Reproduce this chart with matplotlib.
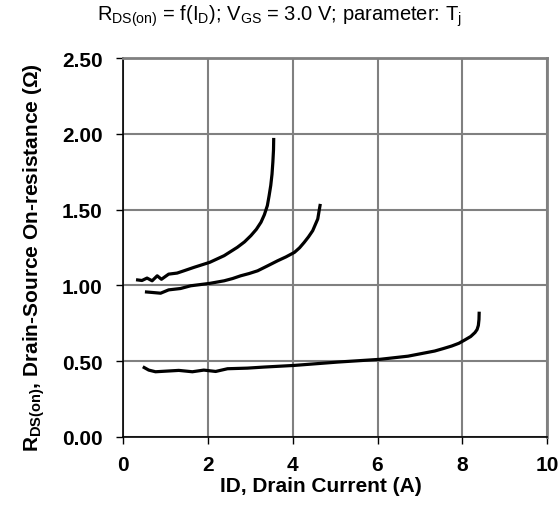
import matplotlib.pyplot as plt

plt.rcParams['font.family'] = ['Liberation Sans', 'DejaVu Sans']
plt.rcParams['mathtext.fontset'] = 'custom'
plt.rcParams['mathtext.rm'] = 'Liberation Sans'
plt.rcParams['mathtext.bf'] = 'Liberation Sans:bold'

# curve data (ID in A, RDS(on) in ohm)
id_a = [0.30, 0.44, 0.56, 0.68, 0.80, 0.90, 1.07, 1.27, 1.43, 1.67, 2.04, 2.38,
        2.69, 2.86, 3.01, 3.14, 3.25, 3.33, 3.40, 3.44, 3.48, 3.51, 3.53, 3.545, 3.55]
r_a = [1.037, 1.032, 1.048, 1.030, 1.063, 1.040, 1.074, 1.081, 1.096, 1.119, 1.152,
       1.196, 1.251, 1.287, 1.328, 1.370, 1.417, 1.467, 1.527, 1.590, 1.660, 1.735,
       1.815, 1.895, 1.974]

id_b = [0.51, 0.68, 0.88, 1.07, 1.35, 1.59, 2.04, 2.38, 2.58, 2.77, 2.97, 3.17,
        3.40, 3.64, 3.84, 4.04, 4.16, 4.27, 4.37, 4.47, 4.53, 4.59, 4.62, 4.65]
r_b = [0.957, 0.953, 0.948, 0.970, 0.979, 0.997, 1.013, 1.030, 1.045, 1.063, 1.078,
       1.096, 1.128, 1.162, 1.188, 1.218, 1.248, 1.284, 1.320, 1.361, 1.400, 1.439,
       1.490, 1.538]

id_c = [0.46, 0.60, 0.76, 1.31, 1.63, 1.90, 2.18, 2.46, 2.93, 3.32, 4.04, 5.06,
        6.05, 6.72, 7.35, 7.55, 7.75, 7.92, 8.06, 8.20, 8.30, 8.35, 8.38, 8.395, 8.40]
r_c = [0.462, 0.440, 0.429, 0.438, 0.429, 0.440, 0.431, 0.449, 0.453, 0.460, 0.471,
       0.493, 0.511, 0.532, 0.566, 0.582, 0.599, 0.617, 0.639, 0.662, 0.688, 0.708,
       0.735, 0.775, 0.826]

x_ticks = [0, 2, 4, 6, 8, 10]
y_ticks = [0.0, 0.5, 1.0, 1.5, 2.0, 2.5]

fig = plt.figure(figsize=(5.59, 5.06), dpi=100)
ax = fig.add_axes([0.2206, 0.135, 0.7579, 0.7478])

for xs, ys in [(id_a, r_a), (id_b, r_b), (id_c, r_c)]:
    ax.plot(xs, ys, color='black', lw=2.3, solid_capstyle='butt', zorder=3)

ax.set_xlim(0, 10)
ax.set_ylim(0, 2.5)
ax.set_xticks(x_ticks)
ax.set_yticks(y_ticks)
ax.set_xticklabels([str(v) for v in x_ticks])
ax.set_yticklabels(['%.2f' % v for v in y_ticks])
ax.grid(True, color='#808080', lw=1.5)
ax.set_axisbelow(True)

for side in ['top', 'right']:
    ax.spines[side].set_color('#808080')
    ax.spines[side].set_linewidth(2)
for side in ['left', 'bottom']:
    ax.spines[side].set_color('black')
    ax.spines[side].set_linewidth(1.2)

ax.tick_params(direction='out', length=5, width=1, labelsize=15)
ax.tick_params(axis='y', pad=10)
ax.tick_params(axis='x', pad=8)
for lab in ax.get_xticklabels() + ax.get_yticklabels():
    lab.set_fontweight('bold')

ax.set_xlabel('ID, Drain Current (A)', fontsize=15, fontweight='bold')
ax.set_ylabel(r'$\mathbf{R_{DS(on)}}$, Drain-Source On-resistance (Ω)',
              fontsize=15, fontweight='bold')
ax.xaxis.set_label_coords(0.467, -0.104)
ax.yaxis.set_label_coords(-0.18, 0.475)

fig.text(0.50, 0.968, r'$\mathregular{R_{DS(on)}}$ = f($\mathregular{I_D}$); '
         r'$\mathregular{V_{GS}}$ = 3.0 V; parameter: $\mathregular{T_j}$',
         ha='center', va='center', fontsize=14.5)

fig.savefig('out.png', dpi=100)
